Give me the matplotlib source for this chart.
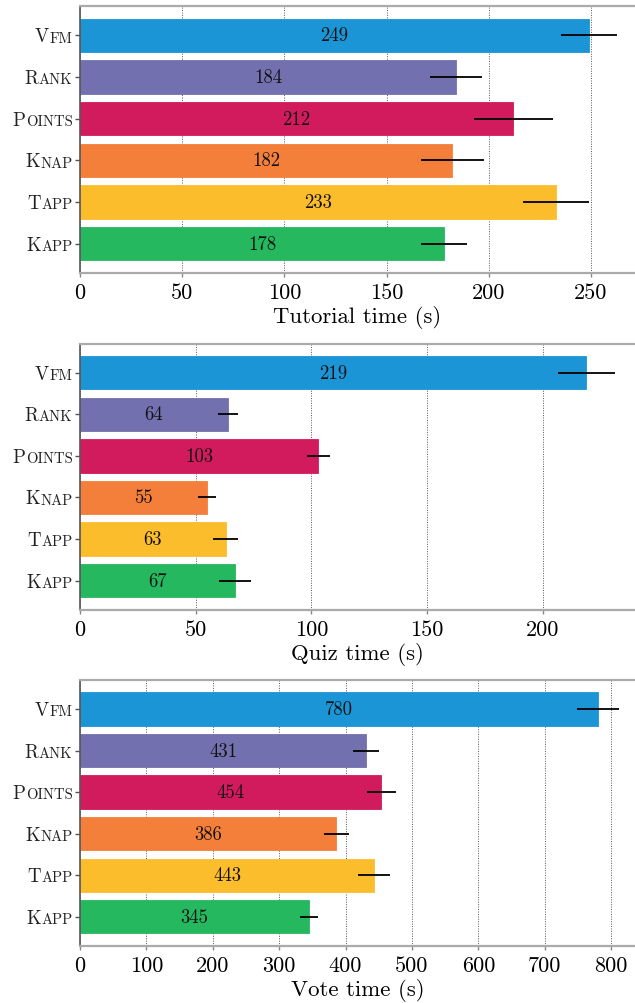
import matplotlib
matplotlib.use("Agg")
import matplotlib.pyplot as plt
import matplotlib.transforms as mtransforms

plt.rcParams['font.family'] = ['cmr10', 'DejaVu Serif']
plt.rcParams['axes.formatter.use_mathtext'] = True
plt.rcParams['mathtext.fontset'] = 'cm'

methods = ["Vfm", "Rank", "Points", "Knap", "Tapp", "Kapp"]
colors = ["#1b95d5", "#7370af", "#d21b5d", "#f47f3a", "#fbbd2b", "#26b85e"]

tutorial_mean = [249, 184, 212, 182, 233, 178]
tutorial_err = [13.7, 12.8, 19.4, 15.4, 16.2, 11.2]
quiz_mean = [219, 64, 103, 55, 63, 67]
quiz_err = [12.3, 4.2, 5.0, 4.0, 5.5, 6.8]
vote_mean = [780, 431, 454, 386, 443, 345]
vote_err = [31.5, 20.0, 22.0, 19.0, 24.0, 14.0]

panels = [
    (tutorial_mean, tutorial_err, "Tutorial time (s)", [0, 50, 100, 150, 200, 250], 271.5, 0.7271, 0.9927),
    (quiz_mean, quiz_err, "Quiz time (s)", [0, 50, 100, 150, 200], 240.0, 0.3917, 0.6567),
    (vote_mean, vote_err, "Vote time (s)", [0, 100, 200, 300, 400, 500, 600, 700, 800], 836.0, 0.0571, 0.3217),
]

fig = plt.figure(figsize=(6.35, 10.04), dpi=100)
left = 80 / 635

for means, errs, xlabel, xticks, xmax, bot, top in panels:
    ax = fig.add_axes([left, bot, 1.0 - left, top - bot])
    ypos = list(range(len(methods)))
    ax.barh(ypos, means, height=0.8, color=colors, edgecolor=colors, linewidth=0.6,
            xerr=errs, error_kw=dict(ecolor='black', elinewidth=1.3, capsize=0), zorder=2)
    for y, m in zip(ypos, means):
        ax.text(m / 2, y, str(m), ha='center', va='center', fontsize=13.5, color='#111111', zorder=4)
    ax.set_xlim(0, xmax)
    ax.set_ylim(len(methods) - 0.3, -0.7)
    ax.set_xticks(xticks)
    ax.set_xticklabels([str(t) for t in xticks], fontsize=16)
    ax.set_yticks(ypos)
    ax.set_yticklabels([""] * len(methods))
    ax.tick_params(axis='x', length=3, width=1, color='#888888', pad=4)
    ax.tick_params(axis='y', length=3.5, width=1, color='#555555')
    ax.xaxis.grid(True, linestyle=(0, (1, 1.5)), color='#555555', linewidth=0.7, zorder=1)
    ax.set_axisbelow(True)
    ax.set_xlabel(xlabel, fontsize=16.4, labelpad=2)
    ax.spines['right'].set_visible(False)
    ax.spines['top'].set_color('#aaaaaa')
    ax.spines['bottom'].set_color('#aaaaaa')
    ax.spines['top'].set_linewidth(1.6)
    ax.spines['bottom'].set_linewidth(1.6)
    ax.spines['left'].set_color('#555555')
    ax.spines['left'].set_linewidth(1.2)

    # small-caps style labels: large initial + smaller uppercase tail
    base = ax.get_yaxis_transform()
    for y, name in zip(ypos, methods):
        tr = mtransforms.offset_copy(base, fig=fig, x=-5.3, y=-4.4, units='points')
        tail = ax.text(0, y, name[1:].upper(), transform=tr, ha='right', va='baseline',
                       fontsize=10.6, color='#222222', clip_on=False)
        ax.annotate(name[0], xy=(0, 0), xycoords=tail, xytext=(-0.3, -0.6), textcoords='offset points',
                    ha='right', va='bottom', fontsize=13.6, color='#222222', annotation_clip=False)

fig.savefig("out.png", dpi=100)
